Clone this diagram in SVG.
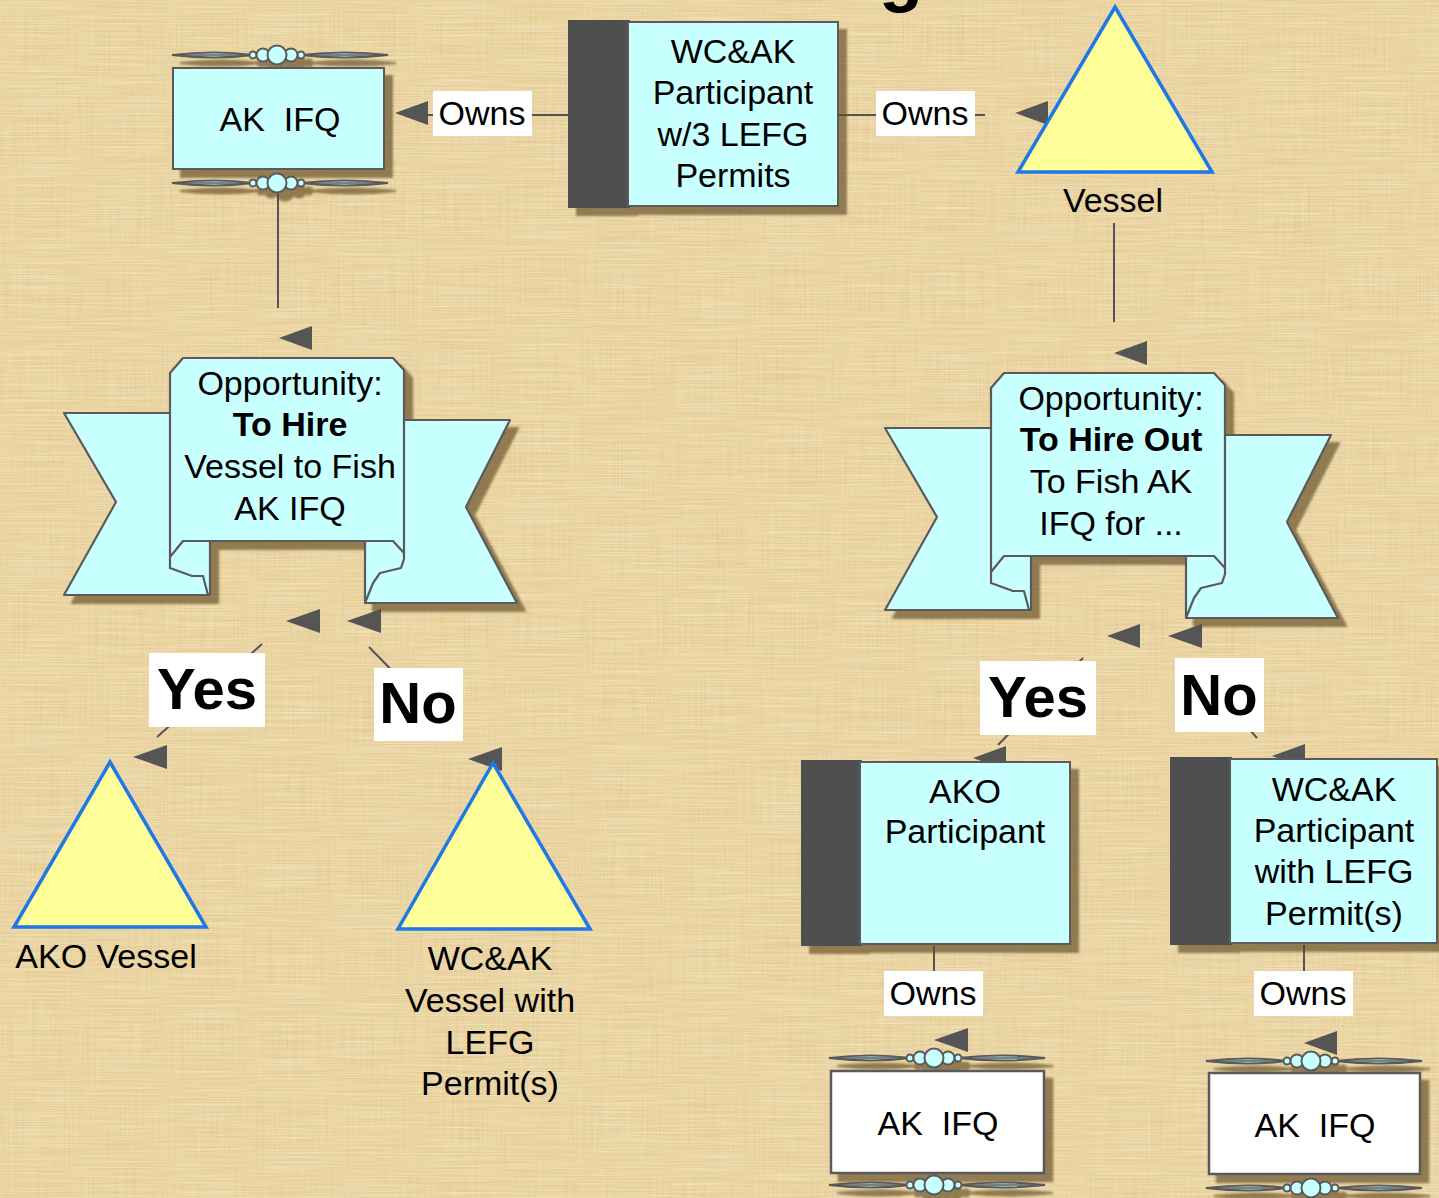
<svg xmlns="http://www.w3.org/2000/svg" xmlns:xlink="http://www.w3.org/1999/xlink" width="1439" height="1198" viewBox="0 0 1439 1198">
<style>
.t{font-family:"Liberation Sans",Arial,sans-serif;font-size:34px;fill:#000;text-anchor:middle}
.b{font-weight:bold}
.yn{font-family:"Liberation Sans",Arial,sans-serif;font-size:58px;font-weight:bold;fill:#000;text-anchor:middle}
.cy{fill:#C8FFFF;stroke:#5a5a5a;stroke-width:2}
.wh{fill:#FFFFFF;stroke:#5a5a5a;stroke-width:2.5}
.dk{fill:#505050}
.tri{fill:#FFFF99;stroke:#1E78E6;stroke-width:3.5;stroke-linejoin:miter}
.lab{fill:#FFFFFF}
.ln{stroke:#555;stroke-width:2;fill:none}
.ah{fill:#555}
.rb{fill:#C8FFFF;stroke:#5a5a5a;stroke-width:2.2;stroke-linejoin:round}
.crl{fill:none;stroke:#5a5a5a;stroke-width:2.2;stroke-linejoin:round}
</style>
<defs>
<filter id="sh" x="-10%" y="-10%" width="130%" height="130%">
<feOffset in="SourceAlpha" dx="8" dy="8" result="o"/>
<feGaussianBlur in="o" stdDeviation="1" result="ob"/>
<feFlood flood-color="#5a4520" flood-opacity="0.62"/>
<feComposite in2="ob" operator="in" result="s"/>
<feMerge><feMergeNode in="s"/><feMergeNode in="SourceGraphic"/></feMerge>
</filter>
<filter id="tex1" x="0" y="0" width="100%" height="100%">
<feTurbulence type="fractalNoise" baseFrequency="0.9 0.012" numOctaves="2" seed="3"/>
<feColorMatrix type="matrix" values="0 0 0 0 0.6  0 0 0 0 0.46  0 0 0 0 0.22  0.7 0 0 0 -0.28"/>
</filter>
<filter id="tex2" x="0" y="0" width="100%" height="100%">
<feTurbulence type="fractalNoise" baseFrequency="0.012 0.9" numOctaves="2" seed="7"/>
<feColorMatrix type="matrix" values="0 0 0 0 0.98  0 0 0 0 0.92  0 0 0 0 0.74  0.9 0 0 0 -0.3"/>
</filter>
<g id="orn">
<path d="M-105,0 Q-62,-5 -24,0 Q-62,5 -105,0 Z" fill="#C8FFFF" stroke="#5a5a5a" stroke-width="2"/>
<path d="M111,0 Q68,-5 24,0 Q68,5 111,0 Z" fill="#C8FFFF" stroke="#5a5a5a" stroke-width="2"/>
<line x1="-105" y1="0" x2="111" y2="0" stroke="#5a5a5a" stroke-width="1.5"/>
<circle cx="-24" cy="0" r="3.5" fill="#C8FFFF" stroke="#5a5a5a" stroke-width="2"/>
<circle cx="24" cy="0" r="3.5" fill="#C8FFFF" stroke="#5a5a5a" stroke-width="2"/>
<circle cx="-14" cy="0" r="6.5" fill="#C8FFFF" stroke="#5a5a5a" stroke-width="2"/>
<circle cx="14" cy="0" r="6.5" fill="#C8FFFF" stroke="#5a5a5a" stroke-width="2"/>
<circle cx="0" cy="0" r="9.5" fill="#C8FFFF" stroke="#5a5a5a" stroke-width="2"/>
</g>
<g id="ribbon">
<polygon class="rb" points="64,413 210,413 210,595 64,595 116,502"/>
<polygon class="rb" points="365,420 510,420 466,507 517,603 365,603"/>
<polygon class="rb" points="170,373 183,358 393,358 404,370 404,553 393,541 183,541 170,557"/>
<polyline class="crl" points="170,557 170,568 192,576 203,576 208,595"/>
<polyline class="crl" points="404,553 404,559 401,568 380,573 373,583 365,603"/>
</g>
</defs>

<g id="background">
<rect x="0" y="0" width="1439" height="1198" fill="#E9D19B"/>
<rect x="0" y="0" width="1439" height="1198" filter="url(#tex1)"/>
<rect x="0" y="0" width="1439" height="1198" filter="url(#tex2)"/>
</g>

<text class="t b" x="901" y="-2" style="font-size:72px">g</text>

<g id="connectors">
<line class="ln" x1="428" y1="115" x2="568" y2="115"/>
<line class="ln" x1="838" y1="115" x2="985" y2="115"/>
<line class="ln" x1="278" y1="190" x2="278" y2="308"/>
<line class="ln" x1="1114" y1="223" x2="1114" y2="322"/>
<line class="ln" x1="262" y1="644" x2="157" y2="737"/>
<line class="ln" x1="369" y1="647" x2="455" y2="735"/>
<line class="ln" x1="1083" y1="658" x2="998" y2="745"/>
<line class="ln" x1="1190" y1="662" x2="1257" y2="738"/>
<line class="ln" x1="934" y1="946" x2="934" y2="971"/>
<line class="ln" x1="1304" y1="945" x2="1304" y2="971"/>
<polygon class="ah" points="395,113 428,101 428,125"/>
<polygon class="ah" points="1015,113 1048,101 1048,125"/>
<polygon class="ah" points="279,338 312,326 312,350"/>
<polygon class="ah" points="1114,353 1147,341 1147,365"/>
<polygon class="ah" points="286,621 320,609 320,633"/>
<polygon class="ah" points="347,621 381,609 381,633"/>
<polygon class="ah" points="1107,636 1140,624 1140,648"/>
<polygon class="ah" points="1168,636 1202,624 1202,648"/>
<polygon class="ah" points="133,757 167,745 167,769"/>
<polygon class="ah" points="468,759 502,747 502,771"/>
<polygon class="ah" points="973,758 1006,746 1006,770"/>
<polygon class="ah" points="1272,756 1305,744 1305,768"/>
<polygon class="ah" points="934,1040 968,1028 968,1052"/>
<polygon class="ah" points="1304,1043 1337,1031 1337,1055"/>
<g id="labels">
<rect class="lab" x="433" y="91" width="99" height="45"/>
<text class="t" x="482" y="125">Owns</text>
<rect class="lab" x="876" y="91" width="99" height="45"/>
<text class="t" x="925" y="125">Owns</text>
<rect class="lab" x="884" y="971" width="99" height="45"/>
<text class="t" x="933" y="1005">Owns</text>
<rect class="lab" x="1254" y="971" width="99" height="45"/>
<text class="t" x="1303" y="1005">Owns</text>
<rect class="lab" x="149" y="653" width="116" height="74"/>
<text class="yn" x="207" y="709">Yes</text>
<rect class="lab" x="374" y="668" width="89" height="73"/>
<text class="yn" x="418" y="723">No</text>
<rect class="lab" x="980" y="661" width="116" height="74"/>
<text class="yn" x="1038" y="717">Yes</text>
<rect class="lab" x="1175" y="658" width="89" height="74"/>
<text class="yn" x="1219" y="715">No</text>
</g>
</g>

<g id="ak-ifq-top">
<g filter="url(#sh)">
<use xlink:href="#orn" x="277" y="55"/>
<rect class="cy" x="173" y="68" width="211" height="101"/>
<use xlink:href="#orn" x="277" y="183"/>
</g>
<text class="t" x="280" y="131" xml:space="preserve">AK  IFQ</text>
</g>

<g id="wcak-participant-top">
<g filter="url(#sh)">
<rect class="dk" x="568" y="20" width="62" height="188"/>
<rect class="cy" x="628" y="22" width="210" height="184"/>
</g>
<text class="t" x="733" y="63">WC&amp;AK</text>
<text class="t" x="733" y="104">Participant</text>
<text class="t" x="733" y="146">w/3 LEFG</text>
<text class="t" x="733" y="187">Permits</text>
</g>

<g id="vessel">
<polygon class="tri" points="1115,7 1212,172 1018,172"/>
<text class="t" x="1113" y="212">Vessel</text>
</g>

<g id="opportunity-hire">
<use xlink:href="#ribbon" filter="url(#sh)"/>
<text class="t" x="290" y="395">Opportunity:</text>
<text class="t b" x="290" y="436">To Hire</text>
<text class="t" x="290" y="478">Vessel to Fish</text>
<text class="t" x="290" y="520">AK IFQ</text>
</g>

<g id="opportunity-hire-out">
<use xlink:href="#ribbon" x="821" y="15" filter="url(#sh)"/>
<text class="t" x="1111" y="410">Opportunity:</text>
<text class="t b" x="1111" y="451">To Hire Out</text>
<text class="t" x="1111" y="493">To Fish AK</text>
<text class="t" x="1111" y="535">IFQ for ...</text>
</g>

<g id="ako-vessel">
<polygon class="tri" points="110,762 206,927 14,927"/>
<text class="t" x="106" y="968">AKO Vessel</text>
</g>

<g id="wcak-vessel">
<polygon class="tri" points="493,763 590,929 398,929"/>
<text class="t" x="490" y="970">WC&amp;AK</text>
<text class="t" x="490" y="1012">Vessel with</text>
<text class="t" x="490" y="1054">LEFG</text>
<text class="t" x="490" y="1095">Permit(s)</text>
</g>

<g id="ako-participant">
<g filter="url(#sh)">
<rect class="dk" x="801" y="760" width="61" height="186"/>
<rect class="cy" x="860" y="762" width="210" height="182"/>
</g>
<text class="t" x="965" y="803">AKO</text>
<text class="t" x="965" y="843">Participant</text>
</g>

<g id="wcak-participant-lefg">
<g filter="url(#sh)">
<rect class="dk" x="1170" y="757" width="62" height="188"/>
<rect class="cy" x="1230" y="759" width="207" height="184"/>
</g>
<text class="t" x="1334" y="801">WC&amp;AK</text>
<text class="t" x="1334" y="842">Participant</text>
<text class="t" x="1334" y="883">with LEFG</text>
<text class="t" x="1334" y="925">Permit(s)</text>
</g>

<g id="ak-ifq-1">
<g filter="url(#sh)">
<use xlink:href="#orn" x="934" y="1058"/>
<rect class="wh" x="831" y="1071" width="213" height="102"/>
<use xlink:href="#orn" x="934" y="1185"/>
</g>
<text class="t" x="938" y="1135" xml:space="preserve">AK  IFQ</text>
</g>

<g id="ak-ifq-2">
<g filter="url(#sh)">
<use xlink:href="#orn" x="1311" y="1061"/>
<rect class="wh" x="1209" y="1073" width="211" height="101"/>
<use xlink:href="#orn" x="1311" y="1188"/>
</g>
<text class="t" x="1315" y="1137" xml:space="preserve">AK  IFQ</text>
</g>
</svg>
